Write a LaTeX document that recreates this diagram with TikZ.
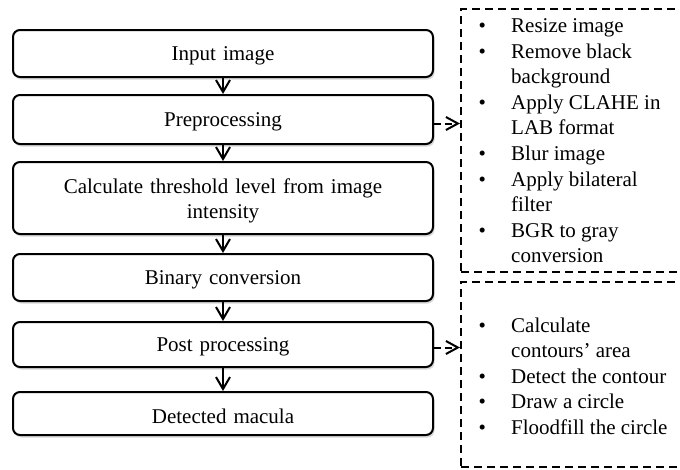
\documentclass[tikz,border=0pt]{standalone}
\usepackage{fontspec}
\setmainfont{Liberation Serif}
\usetikzlibrary{arrows.meta,shadows}
\newcommand{\bl}[1]{\makebox[32.5pt][l]{\textbullet}#1\\}
\newcommand{\cl}[1]{\makebox[32.5pt][l]{}#1\\}
\begin{document}
\begin{tikzpicture}[x=1pt,y=-1pt,
  font=\fontsize{21}{25.6}\selectfont,
  flowbox/.style={draw=black, line width=2pt, rounded corners=7pt, fill=white,
    minimum width=420pt, inner sep=0pt,
    drop shadow={shadow xshift=1.5pt, shadow yshift=-2.5pt, opacity=0.25, fill=black!60}},
  flowtext/.style={inner sep=0pt, align=center, text width=400pt},
  dbox/.style={draw=black, line width=2pt, dash pattern=on 8pt off 5pt, inner sep=0pt},
  flowarrow/.style={draw=black, line width=2pt, -{Straight Barb[length=12pt,width=14pt,line width=2pt]}},
  darrow/.style={draw=black, line width=2pt, dash pattern=on 7pt off 4pt, -{Straight Barb[length=12pt,width=13pt,line width=2pt]}},
  listtext/.style={anchor=base west, inner sep=0pt, align=left}
]
\clip (0,0) rectangle (680,469);
\fill[white] (0,0) rectangle (680,469);

\node[flowbox, minimum height=47pt] (b1) at (223,53.5) {};
\node[flowbox, minimum height=49pt] (b2) at (223,119.5) {};
\node[flowbox, minimum height=72pt] (b3) at (223,198) {};
\node[flowbox, minimum height=47pt] (b4) at (223,277.5) {};
\node[flowbox, minimum height=45pt] (b5) at (223,344.5) {};
\node[flowbox, minimum height=43pt] (b6) at (223,413.5) {};

\node[flowtext] (t1) at ([yshift=-2.5pt]b1.center) {Input image};
\node[flowtext] (t2) at ([yshift=-2.5pt]b2.center) {Preprocessing};
\node[flowtext] (t3) at ([yshift=-3pt]b3.center) {Calculate threshold level from image\\intensity};
\node[flowtext] (t4) at ([yshift=-2.5pt]b4.center) {Binary conversion};
\node[flowtext] (t5) at ([yshift=-2.5pt]b5.center) {Post processing};
\node[flowtext] (t6) at ([yshift=-2.5pt]b6.center) {Detected macula};

\draw[flowarrow] (b1.south) -- (b2.north);
\draw[flowarrow] (b2.south) -- (b3.north);
\draw[flowarrow] (b3.south) -- (b4.north);
\draw[flowarrow] (b4.south) -- (b5.north);
\draw[flowarrow] (b5.south) -- (b6.north);

\node[dbox, minimum width=229pt, minimum height=263pt] (dA) at (575.5,140.5) {};
\node[dbox, minimum width=229pt, minimum height=185pt] (dB) at (575.5,374.5) {};

\draw[darrow] ([yshift=-4pt]b2.east) -- ([yshift=-4pt]b2.east -| dA.west);
\draw[darrow] ([yshift=-3pt]b5.east) -- ([yshift=-3pt]b5.east -| dB.west);

\node[listtext] (tA) at (478.5,32.5) {\begin{tabular}[t]{@{}l@{}}
\bl{Resize image}
\bl{Remove black}
\cl{background}
\bl{Apply CLAHE in}
\cl{LAB format}
\bl{Blur image}
\bl{Apply bilateral}
\cl{filter}
\bl{BGR to gray}
\cl{conversion}
\end{tabular}};

\node[listtext] (tB) at (478.5,332) {\begin{tabular}[t]{@{}l@{}}
\bl{Calculate}
\cl{contours’ area}
\bl{Detect the contour}
\bl{Draw a circle}
\bl{Floodfill the circle}
\end{tabular}};
\end{tikzpicture}
\end{document}
